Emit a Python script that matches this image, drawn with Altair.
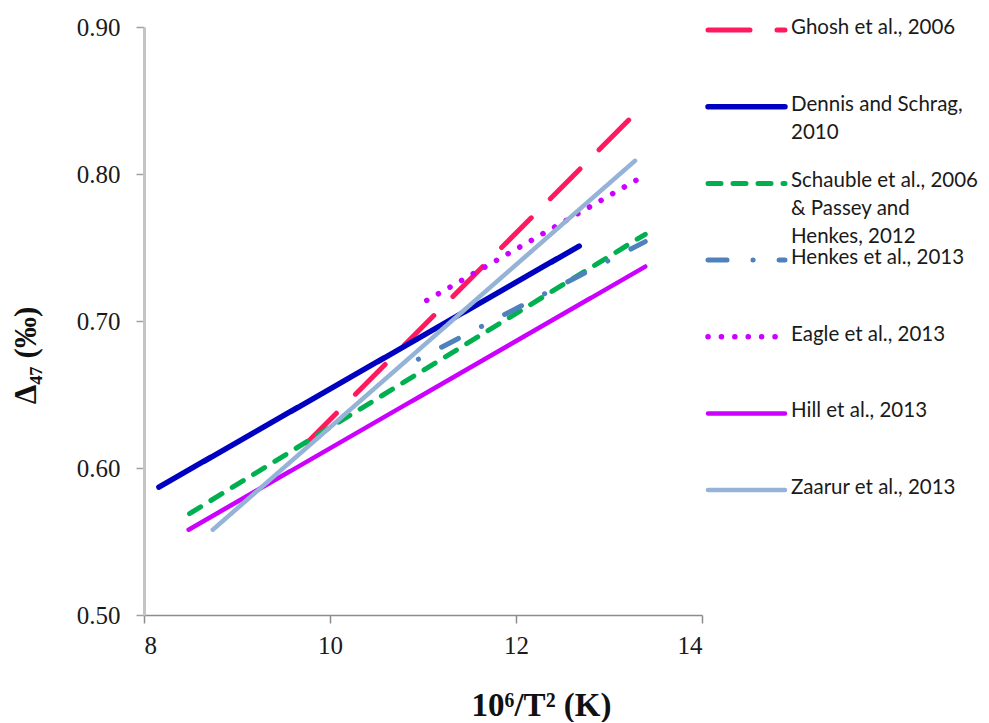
import altair as alt
import pandas as pd

series_names = [
    "Ghosh et al., 2006",
    "Dennis and Schrag, 2010",
    "Schauble et al., 2006 & Passey and Henkes, 2012",
    "Henkes et al., 2013",
    "Eagle et al., 2013",
    "Hill et al., 2013",
    "Zaarur et al., 2013",
]
legend_labels = [
    "Ghosh et al., 2006",
    "Dennis and Schrag,\n2010",
    "Schauble et al., 2006\n& Passey and\nHenkes, 2012",
    "Henkes et al., 2013",
    "Eagle et al., 2013",
    "Hill et al., 2013",
    "Zaarur et al., 2013",
]
x_start = [9.75, 8.16, 8.49, 10.95, 11.04, 8.48, 8.74]
x_end = [13.28, 12.68, 13.39, 13.39, 13.38, 13.39, 13.28]
y_start = [0.617, 0.587, 0.569, 0.674, 0.714, 0.558, 0.558]
y_end = [0.841, 0.751, 0.759, 0.754, 0.799, 0.737, 0.809]

colors = ["#ff1a60", "#0000c0", "#00b050", "#4f81bd", "#cc00ff", "#cc00ff", "#95b3d7"]
dashes = [[42, 27], [1, 0], [13, 12], [19, 26, 0.1, 26], [0.1, 13.3], [1, 0], [1, 0]]
dash_offsets = [0, 0, 0, 45, 0, 0, 0]
widths = [5, 5.5, 5, 5, 5.5, 4.5, 4.5]

rows = []
for i, name in enumerate(series_names):
    rows.append({"series": name, "x": x_start[i], "y": y_start[i]})
    rows.append({"series": name, "x": x_end[i], "y": y_end[i]})
df = pd.DataFrame(rows)

leg = pd.DataFrame({
    "series": series_names,
    "label": legend_labels,
    "idx": list(range(len(series_names))),
})

x_enc = alt.X(
    "x:Q",
    scale=alt.Scale(domain=[8, 14], nice=False),
    axis=alt.Axis(
        values=[8, 10, 12, 14], format="d", grid=False,
        title="10⁶/T² (K)", titleFont="Liberation Serif", titleFontSize=33,
        titleFontWeight="bold", titleColor="#111", titleX=397, titleY=100,
        titleBaseline="alphabetic",
        labelFont="Liberation Serif", labelFontSize=25, labelColor="#1a1a1a",
        labelPadding=10, tickSize=8, tickColor="#8c8c8c", tickWidth=1.5,
        domainColor="#8c8c8c", domainWidth=1.5,
    ),
)
y_enc = alt.Y(
    "y:Q",
    scale=alt.Scale(domain=[0.5, 0.9], nice=False, zero=False),
    axis=alt.Axis(
        values=[0.5, 0.6, 0.7, 0.8, 0.9], format=".2f", grid=False,
        title="Δ₄₇ (‰)", titleFont="Liberation Serif", titleFontSize=31,
        titleFontWeight="bold", titleColor="#111", titleX=-118, titleY=328,
        titleBaseline="middle", titleAngle=-90,
        labelFont="Liberation Serif", labelFontSize=25, labelColor="#1a1a1a",
        labelPadding=16, tickSize=8, tickColor="#a0a0a0", tickWidth=1.5,
        domainColor="#c4c4c4", domainWidth=3,
    ),
)

layers = []
for i, name in enumerate(series_names):
    layers.append(
        alt.Chart(df)
        .transform_filter(alt.datum.series == name)
        .mark_line(
            color=colors[i], strokeWidth=widths[i], strokeDash=dashes[i],
            strokeDashOffset=dash_offsets[i], strokeCap="round",
        )
        .encode(x=x_enc, y=y_enc)
    )
main = alt.layer(*layers).properties(width=558, height=588)

y_leg = alt.Y("idx:Q", scale=alt.Scale(domain=[-0.04, 7.63], reverse=True, nice=False, zero=False), axis=None)
leg_layers = []
for i, name in enumerate(series_names):
    leg_layers.append(
        alt.Chart(leg)
        .transform_filter(alt.datum.series == name)
        .mark_rule(color=colors[i], strokeWidth=widths[i], strokeDash=dashes[i], strokeCap="round")
        .encode(x=alt.value(2), x2=alt.value(79), y=y_leg)
    )
leg_text = (
    alt.Chart(leg)
    .mark_text(align="left", baseline="top", dy=-12, lineBreak="\n",
               font="Lato", fontSize=20.5, lineHeight=28, color="#1a1a1a")
    .encode(x=alt.value(85), y=y_leg, text="label:N")
)
legend = alt.layer(*leg_layers, leg_text).properties(width=275, height=588)

chart = (
    alt.hconcat(main, legend, spacing=4, bounds="flush")
    .properties(padding={"left": 10, "top": 15, "right": 0, "bottom": 0})
    .configure_view(stroke=None)
)
chart.save("out.html", embed_options={"renderer": "svg", "actions": False})
